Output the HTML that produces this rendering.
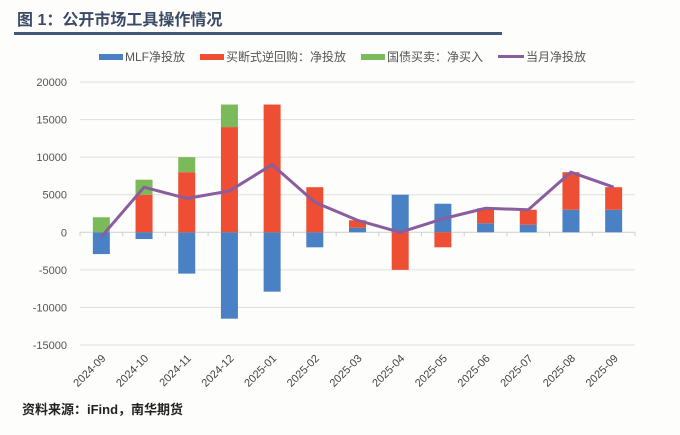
<!DOCTYPE html>
<html><head><meta charset="utf-8"><style>
body{margin:0;background:#fdfdfb;width:680px;height:430px;overflow:hidden;font-family:"Liberation Sans","Noto Sans CJK SC",sans-serif;}
</style></head><body>
<svg width="680" height="430" xmlns="http://www.w3.org/2000/svg">
<text x="17" y="25" font-size="16" font-weight="bold" fill="#3b4a66" font-family="Liberation Sans, Noto Sans CJK SC, sans-serif">图 1：公开市场工具操作情况</text>
<rect x="14" y="32" width="488" height="3" fill="#41587a"/>
<g id="legend" font-size="12" fill="#555">
<g><rect x="99" y="54" width="24" height="6" fill="#4a80c4"/><text x="125" y="61">MLF净投放</text></g>
<g><rect x="200" y="54" width="24" height="6" fill="#ee4e33"/><text x="226" y="61">买断式逆回购：净投放</text></g>
<g><rect x="361" y="54" width="24" height="6" fill="#7aba5a"/><text x="387" y="61">国债买卖：净买入</text></g>
<g><rect x="498" y="55" width="26" height="3" fill="#8a5d9e"/><text x="526" y="61">当月净投放</text></g>
</g>
<g id="grid"></g><g id="bars"></g><g id="line"></g><g id="xlabels"></g>
<text x="22" y="414" font-size="13" font-weight="bold" fill="#222">资料来源：iFind，南华期货</text>
</svg>
<script>
const categories=["2024-09","2024-10","2024-11","2024-12","2025-01","2025-02","2025-03","2025-04","2025-05","2025-06","2025-07","2025-08","2025-09"];
const mlf=[-2900,-900,-5500,-11500,-7900,-2000,600,5000,3800,1200,1000,3000,3000];
const repo=[0,5000,8000,14000,17000,6000,1000,-5000,-2000,2000,2000,5000,3000];
const treasury=[2000,2000,2000,3000,0,0,0,0,0,0,0,0,0];
const net=[-600,6000,4500,5500,9000,4000,1600,0,1800,3200,3000,8000,6000];
const yTicks=[20000,15000,10000,5000,0,-5000,-10000,-15000];
const NS="http://www.w3.org/2000/svg";
const x0=80,x1=635,yTop=82,yBot=345,vMax=20000,vMin=-15000;
const band=(x1-x0)/categories.length;
const X=i=>x0+band*(i+0.5);
const Y=v=>yTop+(vMax-v)/(vMax-vMin)*(yBot-yTop);
function mk(tag,attrs,parent){const e=document.createElementNS(NS,tag);for(const k in attrs)e.setAttribute(k,attrs[k]);parent.appendChild(e);return e;}
const grid=document.getElementById('grid');
yTicks.forEach(t=>{
  const l=mk('line',{x1:x0,x2:x1,y1:Y(t),y2:Y(t),stroke:t===0?'#cfcfcf':'#dedede','stroke-width':1},grid);
  
  
  const tx=mk('text',{x:67,y:Y(t)+4,'text-anchor':'end','font-size':11,fill:'#555'},grid);
  tx.textContent=t;
  
  
});
for(let i=0;i<=categories.length;i++){
  const l=mk('line',{x1:x0+band*i,x2:x0+band*i,y1:Y(0),y2:Y(0)+4,stroke:'#cfcfcf'},grid);
  
  
}
const bars=document.getElementById('bars');const bw=17;
categories.forEach((c,i)=>{
  let pos=0,neg=0;
  [[mlf,'#4a80c4','bar-mlf'],[repo,'#ee4e33','bar-repo'],[treasury,'#7aba5a','bar-treasury']].forEach(([arr,col,nm])=>{
    const v=arr[i];if(!v)return;
    let a,b;if(v>0){a=pos;b=pos+v;pos=b;}else{a=neg;b=neg+v;neg=b;}
    const r=mk('rect',{x:X(i)-bw/2,y:Math.min(Y(a),Y(b)),width:bw,height:Math.abs(Y(a)-Y(b)),fill:col},bars);
    
    
  });
  const t=mk('text',{'font-size':11,fill:'#444','text-anchor':'end',transform:`translate(${X(i)+5},${yBot+14}) rotate(-45)`},document.getElementById('xlabels'));
  t.textContent=c;
  
  
});
const p=mk('polyline',{points:net.map((v,i)=>X(i)+','+Y(v)).join(' '),fill:'none',stroke:'#8a5d9e','stroke-width':3,'stroke-linejoin':'round'},document.getElementById('line'));


</script>
</body></html>
